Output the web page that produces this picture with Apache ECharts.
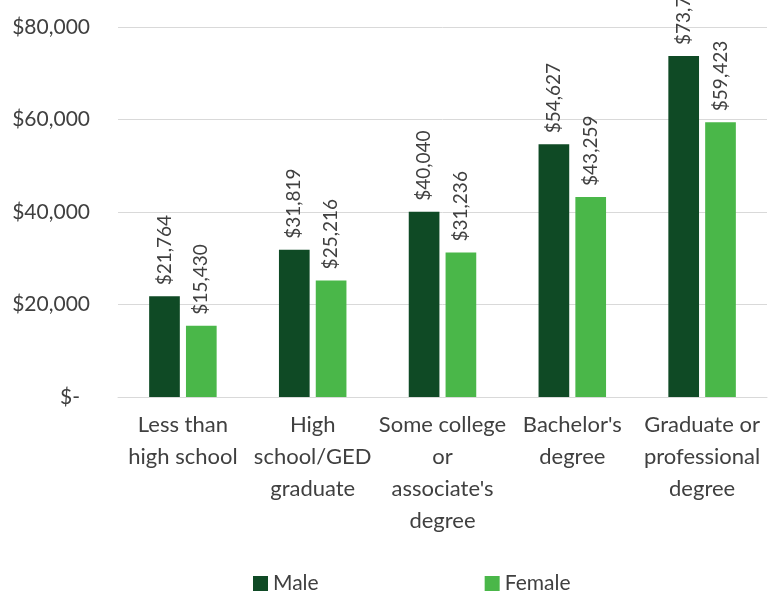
<!DOCTYPE html>
<html>
<head>
<meta charset="utf-8">
<script src="https://cdn.jsdelivr.net/npm/echarts@6/dist/echarts.min.js"></script>
<style>
  html, body { margin: 0; padding: 0; background: #fff; }
  #chart { width: 773px; height: 601px; }
</style>
</head>
<body>
<div id="chart"></div>
<script>
// earnings by education level
var categories = [
  'Less than\nhigh school',
  'High\nschool/GED\ngraduate',
  'Some college\nor\nassociate\'s\ndegree',
  'Bachelor\'s\ndegree',
  'Graduate or\nprofessional\ndegree'
];
var maleValues = [21764, 31819, 40040, 54627, 73738];
var femaleValues = [15430, 25216, 31236, 43259, 59423];
var yTicks = [0, 20000, 40000, 60000, 80000];

var textColor = '#404040';
var fontName = 'Lato';

function money(v) {
  return '$' + v.toString().replace(/\B(?=(\d{3})+(?!\d))/g, ',');
}

var chart = echarts.init(document.getElementById('chart'));

var valueLabel = {
  show: true,
  position: 'top',
  rotate: 90,
  align: 'left',
  verticalAlign: 'middle',
  distance: 11,
  color: textColor,
  fontFamily: fontName,
  fontSize: 19,
  formatter: function (p) { return money(p.value); }
};

var option = {
  animation: false,
  color: ['#0f4a25', '#4ab749'],
  textStyle: { fontFamily: fontName },
  grid: {
    left: 118,
    right: 6,
    top: 27,
    bottom: 204,
    containLabel: false
  },
  legend: {
    data: ['Male', 'Female'],
    left: 248,
    bottom: 2,
    itemWidth: 15,
    itemHeight: 15,
    itemGap: 166,
    icon: 'rect',
    textStyle: { color: textColor, fontSize: 21, fontFamily: fontName }
  },
  xAxis: {
    type: 'category',
    data: categories,
    axisLine: { lineStyle: { color: '#d9d9d9', width: 1 } },
    axisTick: { show: false },
    axisLabel: {
      color: textColor,
      fontSize: 22,
      fontFamily: fontName,
      lineHeight: 32,
      margin: 12,
      interval: 0
    }
  },
  yAxis: {
    type: 'value',
    min: yTicks[0],
    max: yTicks[yTicks.length - 1],
    interval: yTicks[1] - yTicks[0],
    axisLine: { show: false },
    axisTick: { show: false },
    splitLine: { lineStyle: { color: '#d9d9d9', width: 1 } },
    axisLabel: {
      color: textColor,
      fontSize: 21,
      fontFamily: fontName,
      margin: 28,
      formatter: function (v) {
        return v === 0 ? '{z|$-}' : money(v);
      },
      rich: {
        z: { fontSize: 21, fontFamily: fontName, color: textColor, padding: [0, 10, 0, 0] }
      }
    }
  },
  series: [
    {
      name: 'Male',
      type: 'bar',
      data: maleValues,
      barGap: '20%',
      barCategoryGap: '48%',
      label: valueLabel
    },
    {
      name: 'Female',
      type: 'bar',
      data: femaleValues,
      label: valueLabel
    }
  ]
};

chart.setOption(option);
</script>
</body>
</html>
